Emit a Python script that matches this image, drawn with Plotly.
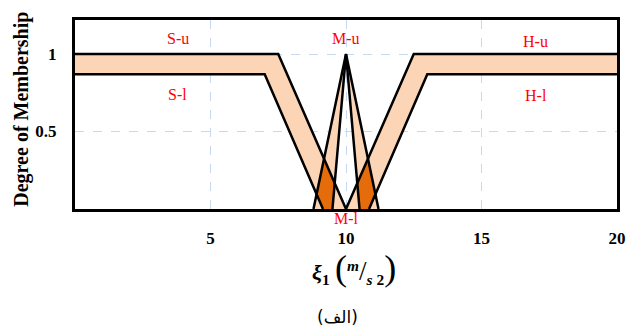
import plotly.graph_objects as go

# Interval type-2 membership functions (breakpoints)
s_upper_x = [0.0, 7.5, 10.0]
s_upper_y = [1.0, 1.0, 0.0]
s_lower_x = [0.0, 7.0, 9.15]
s_lower_y = [0.87, 0.87, 0.0]

m_upper_x = [8.8, 10.0, 11.2]
m_upper_y = [0.0, 1.0, 0.0]
m_lower_x = [9.5, 10.0, 10.5]
m_lower_y = [0.0, 1.0, 0.0]

h_upper_x = [10.0, 12.5, 20.0]
h_upper_y = [0.0, 1.0, 1.0]
h_lower_x = [10.85, 13.0, 20.0]
h_lower_y = [0.0, 0.87, 0.87]

x_ticks = [5, 10, 15, 20]
y_ticks = [0.5, 1]
y_tick_text = ["0.5", "1"]

labels = ["S-u", "S-l", "M-u", "M-l", "H-u", "H-l"]
label_x = [3.8, 3.8, 10.0, 10.0, 17.0, 17.0]
label_y = [1.10, 0.74, 1.10, -0.06, 1.08, 0.73]

PEACH = "#FBD5B5"
DARK = "#E46C0A"
SERIF = "Liberation Serif, Times New Roman, serif"
Y_MAX = 1.22


def band(ux, uy, lx, ly):
    return list(zip(ux, uy)) + list(zip(lx[::-1], ly[::-1]))


def clip(subject, clipper):
    # Sutherland-Hodgman polygon clipping against a convex polygon
    def area(p):
        s = 0
        for i in range(len(p)):
            x1, y1 = p[i]
            x2, y2 = p[(i + 1) % len(p)]
            s += x1 * y2 - x2 * y1
        return s
    if area(clipper) < 0:
        clipper = clipper[::-1]

    def inside(p, a, b):
        return (b[0] - a[0]) * (p[1] - a[1]) - (b[1] - a[1]) * (p[0] - a[0]) >= 0

    def inter(p, q, a, b):
        x1, y1 = p; x2, y2 = q; x3, y3 = a; x4, y4 = b
        den = (x1 - x2) * (y3 - y4) - (y1 - y2) * (x3 - x4)
        t = ((x1 - x3) * (y3 - y4) - (y1 - y3) * (x3 - x4)) / den
        return (x1 + t * (x2 - x1), y1 + t * (y2 - y1))

    out = subject
    for i in range(len(clipper)):
        a, b = clipper[i], clipper[(i + 1) % len(clipper)]
        inp, out = out, []
        if not inp:
            break
        for j in range(len(inp)):
            p, q = inp[j], inp[(j + 1) % len(inp)]
            if inside(q, a, b):
                if not inside(p, a, b):
                    out.append(inter(p, q, a, b))
                out.append(q)
            elif inside(p, a, b):
                out.append(inter(p, q, a, b))
    return out


s_fou = band(s_upper_x, s_upper_y, s_lower_x, s_lower_y)
h_fou = band(h_upper_x, h_upper_y, h_lower_x, h_lower_y)
m_left = [(m_upper_x[0], m_upper_y[0]), (m_upper_x[1], m_upper_y[1]), (m_lower_x[0], m_lower_y[0])]
m_right = [(m_lower_x[2], m_lower_y[2]), (m_upper_x[1], m_upper_y[1]), (m_upper_x[2], m_upper_y[2])]

fig = go.Figure()


def add_poly(pts, color):
    xs = [p[0] for p in pts] + [pts[0][0]]
    ys = [p[1] for p in pts] + [pts[0][1]]
    fig.add_trace(go.Scatter(x=xs, y=ys, mode="lines", fill="toself", fillcolor=color,
                             line=dict(width=0, color=color), hoverinfo="skip", showlegend=False))


for poly in (s_fou, h_fou, m_left, m_right):
    add_poly(poly, PEACH)
for poly in (clip(s_fou, m_left), clip(h_fou, m_right)):
    if poly:
        add_poly(poly, DARK)

for xs, ys in ((s_upper_x, s_upper_y), (s_lower_x, s_lower_y), (m_upper_x, m_upper_y),
               (m_lower_x, m_lower_y), (h_upper_x, h_upper_y), (h_lower_x, h_lower_y)):
    fig.add_trace(go.Scatter(x=xs, y=ys, mode="lines", line=dict(color="black", width=2.5),
                             hoverinfo="skip", showlegend=False))

# set labels: y given in data units, placed with paper y so the one below the axis still shows
for t, x, y in zip(labels, label_x, label_y):
    fig.add_annotation(x=x, y=y / Y_MAX, xref="x", yref="paper", text=t, showarrow=False,
                       xanchor="center", yanchor="middle",
                       font=dict(family=SERIF, size=16, color="#FF0000"))

# y-axis title
fig.add_annotation(x=-0.098, y=0.53, xref="paper", yref="paper", text="<b>Degree of Membership</b>",
                   showarrow=False, textangle=-90, xanchor="center", yanchor="middle",
                   font=dict(family=SERIF, size=20, color="black"))

# x-axis title
fig.add_annotation(
    x=0.515, y=-0.31, xref="paper", yref="paper", showarrow=False, xanchor="center", yanchor="middle",
    text=("<b><i>ξ</i><sub>1</sub></b> <span style='font-size:36px'>(</span>"
          "<sup><b><i>m</i></b></sup><span style='font-size:27px'>/</span>"
          "<sub><b><i>s</i></b> <b>2</b></sub><span style='font-size:36px'>)</span>"),
    font=dict(family=SERIF, size=22, color="black"))

# caption
fig.add_annotation(x=0.485, y=-0.57, xref="paper", yref="paper", showarrow=False,
                   xanchor="center", yanchor="middle",
                   text="(الف)", font=dict(family="DejaVu Sans", size=17, color="black"))

fig.update_xaxes(range=[0, 20], tickvals=x_ticks, ticktext=[str(v) for v in x_ticks],
                 showgrid=True, gridcolor="#C6D9F1", griddash="dash", gridwidth=1,
                 showline=True, linecolor="black", linewidth=3, mirror=True, zeroline=False,
                 tickfont=dict(family=SERIF, size=17, color="black", weight="bold"),
                 ticks="", ticklabelstandoff=12)
fig.update_yaxes(range=[0, Y_MAX], tickvals=y_ticks, ticktext=y_tick_text,
                 showgrid=True, gridcolor="#C6D9F1", griddash="dash", gridwidth=1,
                 showline=True, linecolor="black", linewidth=3, mirror=True, zeroline=False,
                 tickfont=dict(family=SERIF, size=17, color="black", weight="bold"),
                 ticks="", ticklabelstandoff=12)

# page body has an 8px margin, so the figure is 630x328 and starts at (8, 8)
fig.update_layout(width=630, height=328, margin=dict(l=67, r=21, t=9, b=127),
                  plot_bgcolor="white", paper_bgcolor="white")

fig.write_html("out.html")
